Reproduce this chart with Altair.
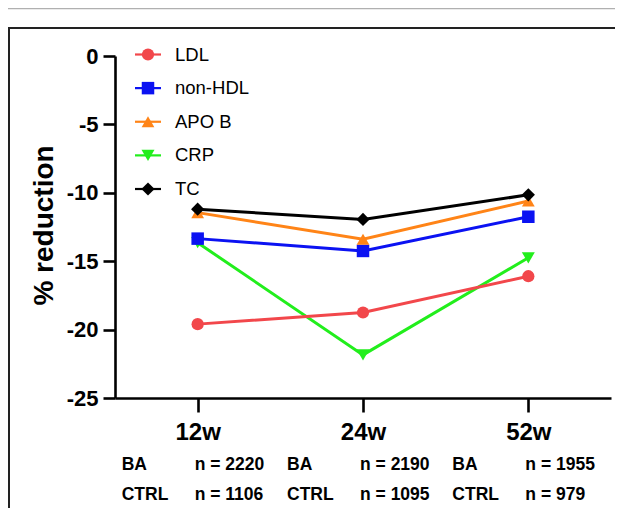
import altair as alt
import pandas as pd

weeks = ["12w", "24w", "52w"]
series = ["LDL", "non-HDL", "APO B", "CRP", "TC"]
ldl = [-19.6, -18.75, -16.1]
non_hdl = [-13.35, -14.25, -11.75]
apo_b = [-11.45, -13.4, -10.6]
crp = [-13.65, -21.85, -14.75]
tc = [-11.2, -11.95, -10.15]
colors = ["#f2474b", "#0b12f2", "#ff8417", "#22ee1c", "#000000"]
shapes = ["circle", "square", "triangle-up", "triangle-down", "diamond"]
marker_sizes = [150, 175, 170, 190, 110]
legend_sizes = [50, 50, 60, 60, 60]
ba_n = [2220, 2190, 1955]
ctrl_n = [1106, 1095, 979]

values = {"LDL": ldl, "non-HDL": non_hdl, "APO B": apo_b, "CRP": crp, "TC": tc}
draw_order = ["CRP", "LDL", "non-HDL", "APO B", "TC"]
rows = []
for s in draw_order:
    for w, v in zip(weeks, values[s]):
        rows.append({"series": s, "week": w, "value": v})
df = pd.DataFrame(rows)

FONT = "Liberation Sans"

color_scale = alt.Scale(domain=series, range=colors)
shape_scale = alt.Scale(domain=series, range=shapes)

x_enc = alt.X(
    "week:N", sort=weeks,
    scale=alt.Scale(type="point", domain=weeks, padding=0.5),
    axis=alt.Axis(title=None, labelFont=FONT, labelFontSize=24, labelFontWeight="bold",
                  labelColor="black", labelAngle=0, labelPadding=8,
                  tickSize=14, tickWidth=2.6, tickColor="black",
                  domainColor="black", domainWidth=2.6, grid=False),
)
y_enc = alt.Y(
    "value:Q",
    scale=alt.Scale(domain=[-25, 0], nice=False, zero=False),
    axis=alt.Axis(values=[0, -5, -10, -15, -20, -25], labelExpr="toString(datum.value)",
                  title="% reduction", titleFont=FONT, titleFontSize=28,
                  titleFontWeight="bold", titleColor="black",
                  titleX=-63, titleY=169, titleAngle=270,
                  titleBaseline="alphabetic", titleAlign="center",
                  labelFont=FONT, labelFontSize=22, labelFontWeight="bold",
                  labelColor="black", labelPadding=5,
                  tickSize=12, tickWidth=2.6, tickColor="black",
                  domainColor="black", domainWidth=2.6, grid=False),
)

lines = alt.Chart(df).mark_line(strokeWidth=3).encode(
    x=x_enc, y=y_enc,
    color=alt.Color("series:N", scale=color_scale, legend=None),
    order=alt.Order("week:N"),
)
points = alt.Chart(df).mark_point(filled=True, opacity=1).encode(
    x=alt.X("week:N", sort=weeks),
    y=alt.Y("value:Q"),
    color=alt.Color("series:N", scale=color_scale, legend=None),
    shape=alt.Shape("series:N", scale=shape_scale, legend=None),
    size=alt.Size("series:N", scale=alt.Scale(domain=series, range=marker_sizes), legend=None),
)
main = alt.layer(lines, points)

# n table below the axis
tab = pd.DataFrame({
    "week": weeks,
    "ba": ["BA"] * 3,
    "ctrl": ["CTRL"] * 3,
    "ba_n": [f"n = {v}" for v in ba_n],
    "ctrl_n": [f"n = {v}" for v in ctrl_n],
})
txt_kw = dict(font=FONT, fontSize=17.5, fontWeight="bold", color="black",
              align="left", baseline="middle")
tab_layers = []
for field, dx, yv in [("ba", -76, 409), ("ba_n", -3, 409), ("ctrl", -76, 439), ("ctrl_n", -3, 439)]:
    tab_layers.append(
        alt.Chart(tab).mark_text(dx=dx, **txt_kw).encode(
            x=alt.X("week:N", sort=weeks), y=alt.value(yv), text=f"{field}:N"
        )
    )

# legend
leg_df = pd.DataFrame({"series": series})
leg_y = alt.Y("series:N", scale=alt.Scale(type="point", domain=series, range=[-1.5, 133], padding=0), axis=None)
leg_line = alt.Chart(leg_df).mark_rule(strokeWidth=2.2).encode(
    x=alt.value(20), x2=alt.value(46), y=leg_y,
    color=alt.Color("series:N", scale=color_scale, legend=None),
)
leg_pt = alt.Chart(leg_df).mark_point(filled=True, opacity=1).encode(
    x=alt.value(33), y=leg_y,
    color=alt.Color("series:N", scale=color_scale, legend=None),
    shape=alt.Shape("series:N", scale=shape_scale, legend=None),
    size=alt.Size("series:N", scale=alt.Scale(domain=series, range=legend_sizes), legend=None),
)
leg_txt = alt.Chart(leg_df).mark_text(font=FONT, fontSize=18.5, color="black",
                                      align="left", baseline="middle").encode(
    x=alt.value(60), y=leg_y, text="series:N",
)
legend = alt.layer(leg_line, leg_pt, leg_txt)

# decoration: frame and top bar
one = pd.DataFrame({"k": [0]})
frame = alt.Chart(one).mark_rect(fill=None, stroke="#222222", strokeWidth=2).encode(
    x=alt.value(-106), x2=alt.value(700), y=alt.value(-28), y2=alt.value(700)
)
bar = alt.Chart(one).mark_rect(fill="#b0b0b0").encode(
    x=alt.value(-108), x2=alt.value(700), y=alt.value(-48), y2=alt.value(-46.7)
)

chart = alt.layer(
    frame, bar, main, *tab_layers, legend
).resolve_scale(y="independent").properties(
    width=496, height=342,
    autosize=alt.AutoSizeParams(type="none"),
    padding={"left": 107, "top": 48, "right": 4, "bottom": 110},
    background="white",
).configure_view(stroke=None)

chart.save("out.html", embed_options={"renderer": "svg", "actions": False})
